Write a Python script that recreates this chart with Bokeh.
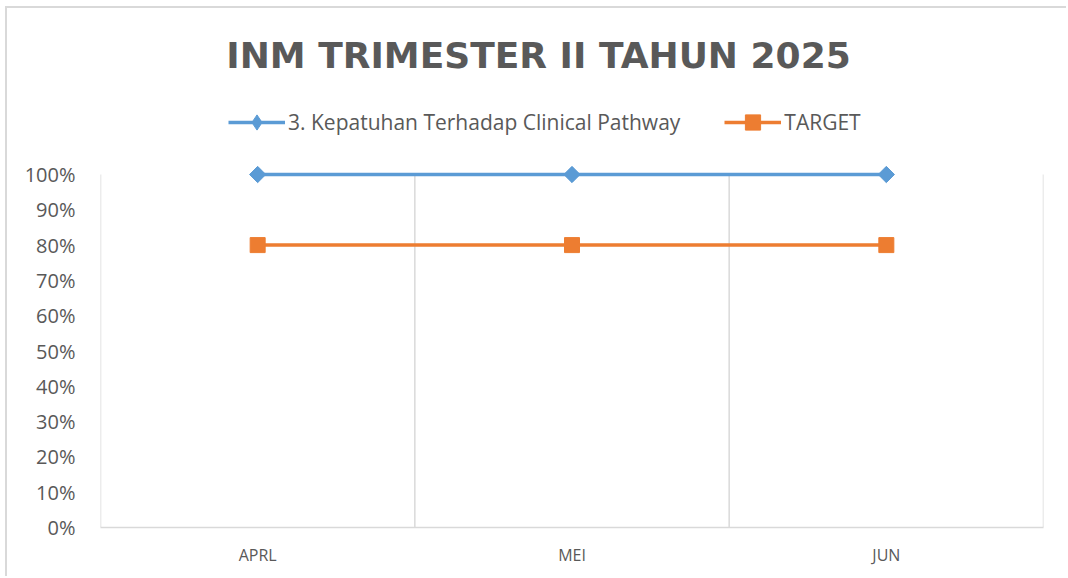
import math
from bokeh.plotting import figure
from bokeh.models import (Range1d, FixedTicker, NumeralTickFormatter, Legend, LegendItem,
                          Label, ColumnDataSource)
from bokeh.embed import file_html
from bokeh.resources import INLINE

# ---- data ----
months = ["APRL", "MEI", "JUN"]
kepatuhan = [1.0, 1.0, 1.0]
target = [0.8, 0.8, 0.8]
y_ticks = [0.0, 0.1, 0.2, 0.3, 0.4, 0.5, 0.6, 0.7, 0.8, 0.9, 1.0]
title_text = "INM TRIMESTER II TAHUN 2025"
series_names = ["3. Kepatuhan Terhadap Clinical Pathway", "TARGET"]

BLUE = "#5B9BD5"
ORANGE = "#ED7D31"
GREY_TXT = "#595959"
GRID = "#D9D9D9"
FONT = "Open Sans"

xs = [i + 0.5 for i in range(len(months))]
bounds = list(range(len(months) + 1))

# layout (pixels)
W, H = 1061, 570
B_LEFT, B_RIGHT, B_BOTTOM = 93, 25, 51
FRAME_H = H - B_BOTTOM          # frame reaches the top of the canvas
UNIT_PX = 353                   # pixels for 0% -> 100%
y_end = FRAME_H / UNIT_PX

src = ColumnDataSource(dict(x=xs, k=kepatuhan, t=target))

p = figure(width=W, height=H, output_backend="svg", toolbar_location=None,
           x_range=Range1d(0, len(months)), y_range=Range1d(0, y_end),
           min_border_left=B_LEFT, min_border_right=B_RIGHT, min_border_top=0,
           min_border_bottom=B_BOTTOM)
p.title = None
p.outline_line_color = None
p.background_fill_color = "white"
p.border_fill_color = "white"
p.xgrid.visible = False
p.ygrid.visible = False
p.styles = {"border-left": "2px solid #D9D9D9", "border-top": "2px solid #D9D9D9",
            "margin-left": "5px", "margin-top": "6px"}

# vertical category-boundary gridlines (0% .. 100%)
p.segment(x0=bounds, y0=[0] * len(bounds), x1=bounds, y1=[1.0] * len(bounds),
          line_color=GRID, line_width=1.5)

# series
l1 = p.line("x", "k", source=src, line_color=BLUE, line_width=3.5)
# narrow diamond (used for the legend swatch), covered in the plot by the rotated square
d1 = p.scatter("x", "k", source=src, marker="diamond", size=15,
               fill_color=BLUE, line_color=BLUE)
s1 = p.scatter("x", "k", source=src, marker="square", angle=math.pi / 4, size=11.5,
               fill_color=BLUE, line_color=BLUE)
l2 = p.line("x", "t", source=src, line_color=ORANGE, line_width=3.5)
s2 = p.scatter("x", "t", source=src, marker="square", size=15,
               fill_color=ORANGE, line_color=ORANGE)

# axes
xa = p.xaxis[0]
xa.ticker = FixedTicker(ticks=xs)
xa.major_label_overrides = {x: m for x, m in zip(xs, months)}
xa.axis_line_color = GRID
xa.axis_line_width = 1.5
xa.major_tick_line_color = None
xa.minor_tick_line_color = None
xa.major_label_standoff = 10
xa.major_label_text_font = FONT
xa.major_label_text_font_size = "16px"
xa.major_label_text_color = GREY_TXT

ya = p.yaxis[0]
ya.ticker = FixedTicker(ticks=y_ticks)
ya.formatter = NumeralTickFormatter(format="0%")
ya.axis_line_color = None
ya.major_tick_line_color = None
ya.minor_tick_line_color = None
ya.major_label_standoff = 19
ya.major_label_text_font = FONT
ya.major_label_text_font_size = "20px"
ya.major_label_text_color = GREY_TXT

# title
p.add_layout(Label(x=438, y=472, x_units="screen", y_units="screen", text=title_text,
                   text_align="center", text_baseline="middle", text_font="DejaVu Sans",
                   text_font_size="36px", text_font_style="bold", text_color=GREY_TXT))

# legend
legend = Legend(items=[LegendItem(label=series_names[0], renderers=[l1, d1]),
                       LegendItem(label=series_names[1], renderers=[l2, s2])],
                orientation="horizontal", location=(128, 386),
                glyph_width=57, glyph_height=38, label_standoff=3, spacing=44,
                padding=0, margin=0, border_line_color=None, background_fill_alpha=0,
                label_text_font=FONT, label_text_font_size="21px", label_text_color=GREY_TXT)
p.add_layout(legend, "center")

open("out.html", "w").write(file_html(p, INLINE))
